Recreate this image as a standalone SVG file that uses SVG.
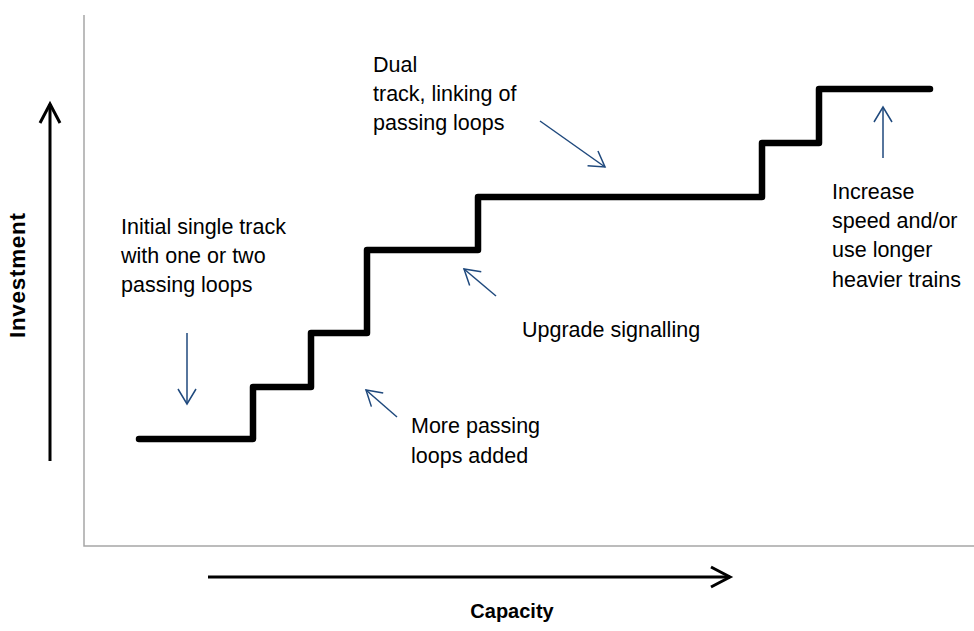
<svg xmlns="http://www.w3.org/2000/svg" width="974" height="631" viewBox="0 0 974 631">
  <style>
    .lbl { font-family: "Liberation Sans", Arial, sans-serif; font-size: 21.5px; fill: #000; }
    .ax { font-family: "Liberation Sans", Arial, sans-serif; font-weight: bold; fill: #000; }
    .frame { stroke: #a6a6a6; stroke-width: 1.5; fill: none; }
    .stair { stroke: #000; stroke-width: 6.5; fill: none; stroke-linecap: round; stroke-linejoin: round; }
    .blue { stroke: #1f497d; stroke-width: 1.5; fill: none; marker-end: url(#bh); }
    .black { stroke: #000; stroke-width: 3; fill: none; marker-end: url(#kh); }
  </style>
  <defs>
    <marker id="bh" markerUnits="userSpaceOnUse" markerWidth="18" markerHeight="22" viewBox="0 0 18 22" refX="16" refY="11" orient="auto" overflow="visible">
      <path d="M1,2 L16,11 L1,20" fill="none" stroke="#1f497d" stroke-width="1.5"/>
    </marker>
    <marker id="kh" markerUnits="userSpaceOnUse" markerWidth="22" markerHeight="24" viewBox="0 0 22 24" refX="20" refY="12" orient="auto" overflow="visible">
      <path d="M1,2 L20,12 L1,22" fill="none" stroke="#000" stroke-width="3"/>
    </marker>
  </defs>
  <rect width="974" height="631" fill="#fff"/>

  <g id="frame">
    <path class="frame" d="M84,15 V546 H974"/>
  </g>

  <g id="staircase">
    <path class="stair" d="M139,439 H253 V387 H311 V333 H367 V250 H478 V197 H762 V143 H819 V89 H930"/>
  </g>

  <g id="axis-investment">
    <line class="black" x1="50" y1="461" x2="50" y2="104"/>
    <text class="ax" font-size="22.5" transform="translate(25,338) rotate(-90)" textLength="125" lengthAdjust="spacing">Investment</text>
  </g>
  <g id="axis-capacity">
    <line class="black" x1="208" y1="577" x2="730" y2="577"/>
    <text class="ax" font-size="20" x="512" y="618" text-anchor="middle">Capacity</text>
  </g>

  <g id="label-initial">
    <text class="lbl" x="121" y="234">Initial single track</text>
    <text class="lbl" x="121" y="263">with one or two</text>
    <text class="lbl" x="121" y="292">passing loops</text>
  </g>
  <g id="label-more">
    <text class="lbl" x="411" y="433">More passing</text>
    <text class="lbl" x="411" y="463">loops added</text>
  </g>
  <g id="label-upgrade">
    <text class="lbl" x="522" y="337">Upgrade signalling</text>
  </g>
  <g id="label-dual">
    <text class="lbl" x="373" y="72">Dual</text>
    <text class="lbl" x="373" y="101">track, linking of</text>
    <text class="lbl" x="373" y="130">passing loops</text>
  </g>
  <g id="label-increase">
    <text class="lbl" x="832" y="199">Increase</text>
    <text class="lbl" x="832" y="228">speed and/or</text>
    <text class="lbl" x="832" y="257">use longer</text>
    <text class="lbl" x="832" y="287">heavier trains</text>
  </g>

  <g id="connectors">
    <line class="blue" x1="187" y1="333" x2="187" y2="404"/>
    <line class="blue" x1="397" y1="417" x2="366" y2="390"/>
    <line class="blue" x1="496" y1="296" x2="464" y2="269"/>
    <line class="blue" x1="540" y1="121" x2="605" y2="167"/>
    <line class="blue" x1="883" y1="158" x2="883" y2="107"/>
  </g>
</svg>
